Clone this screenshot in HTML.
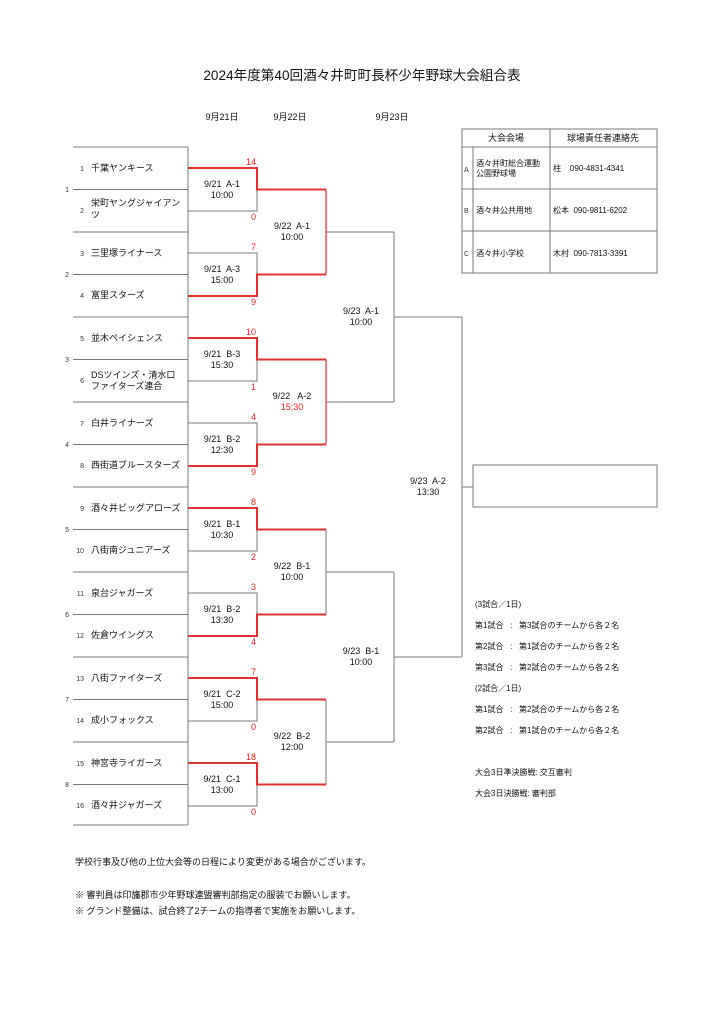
<!DOCTYPE html>
<html><head><meta charset="utf-8"><style>
html,body{margin:0;padding:0;background:#fff;}
svg{display:block;font-family:"Liberation Sans","Noto Sans CJK JP",sans-serif;}
svg text{white-space:pre;}
.t{font-size:9px;fill:#111;}
.s{font-size:7px;fill:#333;}
.r{font-size:9px;fill:#d22;}
</style></head><body>
<svg width="724" height="1024" viewBox="0 0 724 1024" xmlns="http://www.w3.org/2000/svg" xml:space="preserve">
<text x="362" y="80" text-anchor="middle" style="font-size:13.6px" fill="#111">2024年度第40回酒々井町町長杯少年野球大会組合表</text>
<text x="222" y="120" text-anchor="middle" class="t">9月21日</text>
<text x="290" y="120" text-anchor="middle" class="t">9月22日</text>
<text x="392" y="120" text-anchor="middle" class="t">9月23日</text>

<g stroke="#777" stroke-width="1" fill="none">
<line x1="188" y1="147" x2="188" y2="825"/>
<line x1="73" y1="147" x2="188" y2="147"/><line x1="73" y1="189.5" x2="188" y2="189.5"/>
<line x1="73" y1="232" x2="188" y2="232"/><line x1="73" y1="274.5" x2="188" y2="274.5"/>
<line x1="73" y1="317" x2="188" y2="317"/><line x1="73" y1="359.5" x2="188" y2="359.5"/>
<line x1="73" y1="402" x2="188" y2="402"/><line x1="73" y1="444.5" x2="188" y2="444.5"/>
<line x1="73" y1="487" x2="188" y2="487"/><line x1="73" y1="529.5" x2="188" y2="529.5"/>
<line x1="73" y1="572" x2="188" y2="572"/><line x1="73" y1="614.5" x2="188" y2="614.5"/>
<line x1="73" y1="657" x2="188" y2="657"/><line x1="73" y1="699.5" x2="188" y2="699.5"/>
<line x1="73" y1="742" x2="188" y2="742"/><line x1="73" y1="784.5" x2="188" y2="784.5"/>
<line x1="73" y1="825" x2="188" y2="825"/>
<polyline points="188,211 257,211 257,189.5"/>
<polyline points="188,253 257,253 257,274.5"/>
<polyline points="188,381 257,381 257,359.5"/>
<polyline points="188,423 257,423 257,444.5"/>
<polyline points="188,551 257,551 257,529.5"/>
<polyline points="188,593 257,593 257,614.5"/>
<polyline points="188,721 257,721 257,699.5"/>
<polyline points="188,806 257,806 257,784.5"/>
<line x1="326" y1="529.5" x2="326" y2="614.5"/>
<line x1="326" y1="699.5" x2="326" y2="784.5"/>
<line x1="326" y1="232" x2="394" y2="232"/><line x1="326" y1="402" x2="394" y2="402"/>
<line x1="326" y1="572" x2="394" y2="572"/><line x1="326" y1="742" x2="394" y2="742"/>
<line x1="394" y1="232" x2="394" y2="402"/><line x1="394" y1="572" x2="394" y2="742"/>
<line x1="394" y1="317" x2="462" y2="317"/><line x1="394" y1="657" x2="462" y2="657"/>
<line x1="462" y1="317" x2="462" y2="657"/>
<line x1="462" y1="487" x2="473" y2="487"/>
<rect x="473" y="465" width="184" height="42"/>
<rect x="462" y="129" width="195" height="144"/>
<line x1="462" y1="147" x2="657" y2="147"/>
<line x1="462" y1="189" x2="657" y2="189"/>
<line x1="462" y1="231" x2="657" y2="231"/>
<line x1="473" y1="147" x2="473" y2="273"/>
<line x1="550" y1="129" x2="550" y2="273"/>
</g>
<g stroke="#d33" stroke-width="2" fill="none">
<polyline points="188,168 257,168 257,189.5 326,189.5"/>
<polyline points="188,296 257,296 257,274.5 326,274.5"/>
<polyline points="188,338 257,338 257,359.5 326,359.5"/>
<polyline points="188,466 257,466 257,444.5 326,444.5"/>
<polyline points="188,508 257,508 257,529.5 326,529.5"/>
<polyline points="188,636 257,636 257,614.5 326,614.5"/>
<polyline points="188,678 257,678 257,699.5 326,699.5"/>
<polyline points="188,763 257,763 257,784.5 326,784.5"/>
</g>
<g stroke="#d33" stroke-width="1.2">
<line x1="326" y1="189.5" x2="326" y2="274.5"/>
<line x1="326" y1="359.5" x2="326" y2="444.5"/>
</g>

<g class="s" text-anchor="end">
<text x="69" y="192">1</text><text x="69" y="277">2</text><text x="69" y="362">3</text><text x="69" y="447">4</text>
<text x="69" y="532">5</text><text x="69" y="617">6</text><text x="69" y="702">7</text><text x="69" y="787">8</text>
</g>
<g class="s" text-anchor="end">
<text x="84" y="171">1</text><text x="84" y="213">2</text><text x="84" y="256">3</text><text x="84" y="298">4</text>
<text x="84" y="341">5</text><text x="84" y="383">6</text><text x="84" y="426">7</text><text x="84" y="468">8</text>
<text x="84" y="511">9</text><text x="84" y="553">10</text><text x="84" y="596">11</text><text x="84" y="638">12</text>
<text x="84" y="681">13</text><text x="84" y="723">14</text><text x="84" y="766">15</text><text x="84" y="808">16</text>
</g>
<g class="t">
<text x="91" y="171">千葉ヤンキース</text>
<text x="91" y="206">栄町ヤングジャイアン</text><text x="91" y="218">ツ</text>
<text x="91" y="256">三里塚ライナース</text>
<text x="91" y="298">富里スターズ</text>
<text x="91" y="341">並木ペイシェンス</text>
<text x="91" y="378">DSツインズ・清水口</text><text x="91" y="389">ファイターズ連合</text>
<text x="91" y="426">白井ライナーズ</text>
<text x="91" y="468">西街道ブルースターズ</text>
<text x="91" y="511">酒々井ビッグアローズ</text>
<text x="91" y="553">八街南ジュニアーズ</text>
<text x="91" y="596">泉台ジャガーズ</text>
<text x="91" y="638">佐倉ウイングス</text>
<text x="91" y="681">八街ファイターズ</text>
<text x="91" y="723">成小フォックス</text>
<text x="91" y="766">神宮寺ライガース</text>
<text x="91" y="808">酒々井ジャガーズ</text>
</g>
<g class="r" text-anchor="end">
<text x="256" y="165">14</text><text x="256" y="220">0</text>
<text x="256" y="250">7</text><text x="256" y="305">9</text>
<text x="256" y="335">10</text><text x="256" y="390">1</text>
<text x="256" y="420">4</text><text x="256" y="475">9</text>
<text x="256" y="505">8</text><text x="256" y="560">2</text>
<text x="256" y="590">3</text><text x="256" y="645">4</text>
<text x="256" y="675">7</text><text x="256" y="730">0</text>
<text x="256" y="760">18</text><text x="256" y="815">0</text>
</g>
<g class="t" text-anchor="middle">
<text x="222" y="187">9/21  A-1</text><text x="222" y="198">10:00</text>
<text x="222" y="272">9/21  A-3</text><text x="222" y="283">15:00</text>
<text x="222" y="357">9/21  B-3</text><text x="222" y="368">15:30</text>
<text x="222" y="442">9/21  B-2</text><text x="222" y="453">12:30</text>
<text x="222" y="527">9/21  B-1</text><text x="222" y="538">10:30</text>
<text x="222" y="612">9/21  B-2</text><text x="222" y="623">13:30</text>
<text x="222" y="697">9/21  C-2</text><text x="222" y="708">15:00</text>
<text x="222" y="782">9/21  C-1</text><text x="222" y="793">13:00</text>
<text x="292" y="229">9/22  A-1</text><text x="292" y="240">10:00</text>
<text x="292" y="399">9/22   A-2</text><text x="292" y="410" style="fill:#d22">15:30</text>
<text x="292" y="569">9/22  B-1</text><text x="292" y="580">10:00</text>
<text x="292" y="739">9/22  B-2</text><text x="292" y="750">12:00</text>
<text x="361" y="314">9/23  A-1</text><text x="361" y="325">10:00</text>
<text x="361" y="654">9/23  B-1</text><text x="361" y="665">10:00</text>
<text x="428" y="484">9/23  A-2</text><text x="428" y="495">13:30</text>
</g>
<g class="t">
<text x="506" y="141" text-anchor="middle">大会会場</text>
<text x="603" y="141" text-anchor="middle">球場責任者連絡先</text>
<text x="464" y="172" class="s">A</text>
<text x="476" y="166" style="font-size:8px">酒々井町総合運動</text>
<text x="476" y="176" style="font-size:8px">公園野球場</text>
<text x="553" y="171" style="font-size:8px">柱    090-4831-4341</text>
<text x="464" y="213" class="s">B</text>
<text x="476" y="213" style="font-size:8px">酒々井公共用地</text>
<text x="553" y="213" style="font-size:8px">松本  090-9811-6202</text>
<text x="464" y="256" class="s">C</text>
<text x="476" y="256" style="font-size:8px">酒々井小学校</text>
<text x="553" y="256" style="font-size:8px">木村  090-7813-3391</text>
</g>
<g style="font-size:8px" fill="#111">
<text x="475" y="607">(3試合／1日)</text>
<text x="475" y="628">第1試合   :   第3試合のチームから各２名</text>
<text x="475" y="649">第2試合   :   第1試合のチームから各２名</text>
<text x="475" y="670">第3試合   :   第2試合のチームから各２名</text>
<text x="475" y="691">(2試合／1日)</text>
<text x="475" y="712">第1試合   :   第2試合のチームから各２名</text>
<text x="475" y="733">第2試合   :   第1試合のチームから各２名</text>
<text x="475" y="775">大会3日準決勝戦: 交互審判</text>
<text x="475" y="796">大会3日決勝戦: 審判部</text>
</g>
<g style="font-size:9px" fill="#111">
<text x="75" y="865">学校行事及び他の上位大会等の日程により変更がある場合がございます。</text>
<text x="75" y="898">※ 審判員は印旛郡市少年野球連盟審判部指定の服装でお願いします。</text>
<text x="75" y="914">※ グランド整備は、試合終了2チームの指導者で実施をお願いします。</text>
</g>
</svg>
</body></html>
